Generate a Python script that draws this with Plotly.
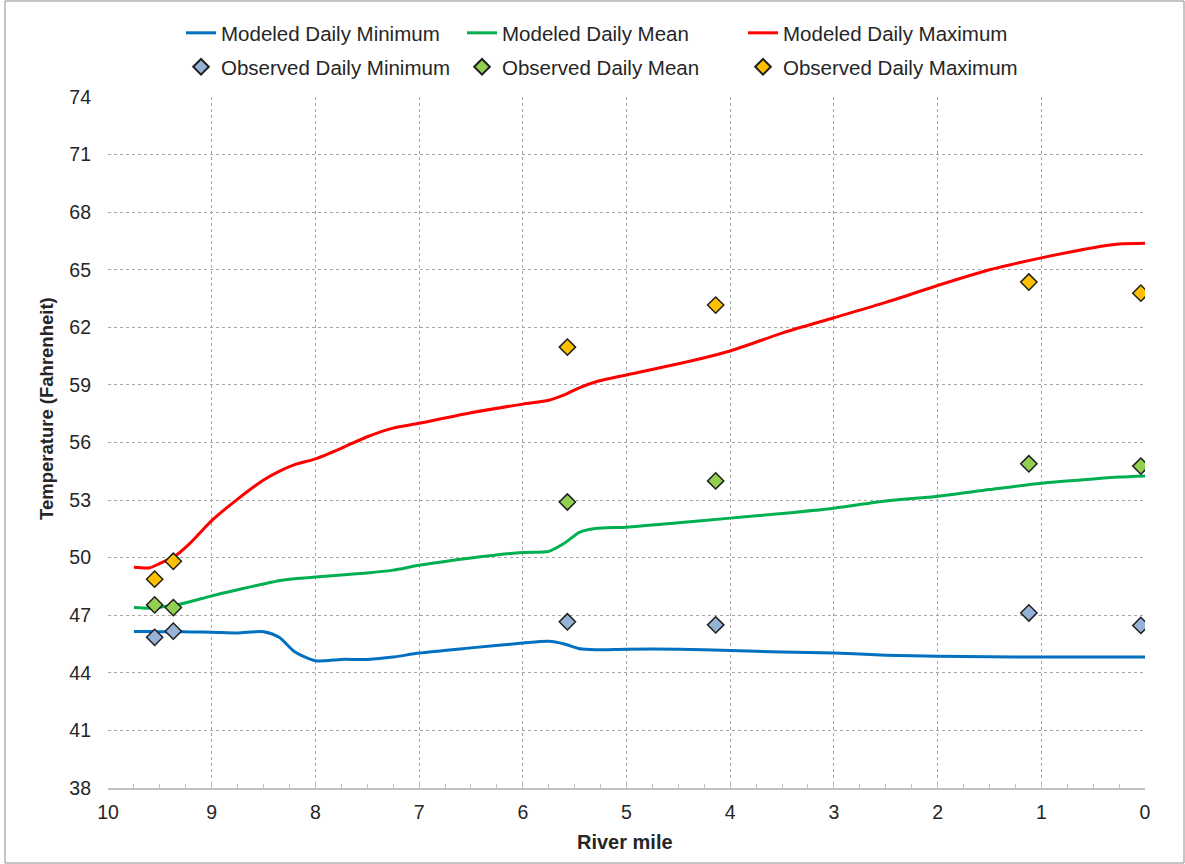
import plotly.graph_objects as go

# ---- data ----
model_mile = [9.75, 9.6, 9.5, 9.35, 9.2, 9.0, 8.75, 8.5, 8.35, 8.2, 8.0, 7.75, 7.5, 7.25,
              7.0, 6.5, 6.0, 5.75, 5.6, 5.45, 5.3, 5.0, 4.5, 4.0, 3.5, 3.0, 2.5, 2.0,
              1.5, 1.0, 0.5, 0.25, 0.0]
model_min = [46.15, 46.15, 46.14, 46.14, 46.13, 46.12, 46.08, 46.14, 45.85, 45.1, 44.63, 44.7,
             44.7, 44.82, 45.03, 45.3, 45.55, 45.64, 45.5, 45.25, 45.2, 45.23, 45.23, 45.16,
             45.08, 45.03, 44.92, 44.87, 44.84, 44.82, 44.82, 44.82, 44.82]
model_mean = [47.40, 47.37, 47.42, 47.53, 47.72, 48.01, 48.33, 48.63, 48.8, 48.9, 48.99, 49.1,
              49.2, 49.35, 49.6, 49.98, 50.27, 50.33, 50.75, 51.33, 51.52, 51.59, 51.82, 52.06,
              52.3, 52.58, 52.95, 53.2, 53.55, 53.88, 54.1, 54.2, 54.26]
model_max = [49.50, 49.47, 49.7, 50.1, 50.8, 51.93, 53.05, 54.05, 54.5, 54.85, 55.15, 55.7,
             56.3, 56.75, 57.0, 57.55, 58.0, 58.2, 58.48, 58.86, 59.15, 59.52, 60.1, 60.77,
             61.7, 62.5, 63.3, 64.18, 65.0, 65.62, 66.15, 66.34, 66.38]

obs_mile = [9.55, 9.37, 5.57, 4.14, 1.12, 0.04]
obs_min = [45.85, 46.17, 46.66, 46.5, 47.12, 46.47]
obs_mean = [47.54, 47.4, 52.9, 54.0, 54.89, 54.77]
obs_max = [48.88, 49.81, 60.97, 63.16, 64.36, 63.78]

x_ticks = list(range(0, 11))
y_ticks = list(range(38, 75, 3))

FONT = "Liberation Sans, Arial, sans-serif"
TXT = "#262626"
GRID = "#A6A6A6"
AXL = "#BFBFBF"

fig = go.Figure()

line_specs = [
    ("Modeled Daily Minimum", model_min, "#0070C0"),
    ("Modeled Daily Mean", model_mean, "#00B050"),
    ("Modeled Daily Maximum", model_max, "#FF0000"),
]
for name, vals, col in line_specs:
    fig.add_trace(go.Scatter(
        x=model_mile, y=vals, name=name, mode="lines",
        line=dict(color=col, width=3, shape="spline", smoothing=0.7),
        legend="legend",
    ))

marker_specs = [
    ("Observed Daily Minimum", obs_min, "#95B3D7"),
    ("Observed Daily Mean", obs_mean, "#92D050"),
    ("Observed Daily Maximum", obs_max, "#FFC000"),
]
for name, vals, col in marker_specs:
    fig.add_trace(go.Scatter(
        x=obs_mile, y=vals, name=name, mode="markers",
        marker=dict(symbol="diamond", size=12.5, color=col,
                    line=dict(color="#1F1F1F", width=1.5)),
        legend="legend2",
    ))

legend_common = dict(
    orientation="h", xref="container", yref="container",
    xanchor="left", yanchor="middle",
    font=dict(family=FONT, size=20.5, color=TXT),
    entrywidth=236, entrywidthmode="pixels",
    bgcolor="rgba(0,0,0,0)", borderwidth=0, traceorder="normal",
)

fig.update_layout(
    width=1185, height=864,
    margin=dict(l=108, r=40, t=97, b=76, autoexpand=False),
    paper_bgcolor="white", plot_bgcolor="white",
    showlegend=True,
    legend=dict(legend_common, x=181 / 1185, y=1 - 33 / 864),
    legend2=dict(legend_common, x=181 / 1185, y=1 - 67 / 864, itemsizing="constant"),
    xaxis=dict(
        range=[10, 0], tickvals=x_ticks, ticktext=[str(v) for v in x_ticks],
        showgrid=True, gridcolor=GRID, griddash="3px,3px", gridwidth=1,
        showline=True, linecolor=AXL, linewidth=2,
        ticks="inside", ticklen=7, tickcolor=AXL, tickwidth=1,
        minor=dict(dtick=0.25, ticks="inside", ticklen=4, tickcolor=AXL, showgrid=False),
        tickfont=dict(family=FONT, size=19.5, color=TXT),
        ticklabelstandoff=6, zeroline=False,
    ),
    yaxis=dict(
        range=[38, 74], tickvals=y_ticks,
        showgrid=True, gridcolor=GRID, griddash="3px,3px", gridwidth=1,
        showline=False, ticks="", zeroline=False,
        tickfont=dict(family=FONT, size=19.5, color=TXT),
        ticklabelstandoff=16,
    ),
    yaxis2=dict(
        range=[38, 74], tickvals=y_ticks, overlaying="y", side="right",
        showgrid=False, showticklabels=False, zeroline=False,
        showline=True, linecolor=AXL, linewidth=2,
        ticks="inside", ticklen=7, tickcolor=AXL,
    ),
    annotations=[
        dict(text="<b>Temperature (Fahrenheit)</b>", xref="paper", yref="paper",
             x=(47 - 108) / 1037, y=(788 - 409) / 691, textangle=-90,
             showarrow=False, xanchor="center", yanchor="middle",
             font=dict(family=FONT, size=18.5, color=TXT)),
        dict(text="<b>River mile</b>", xref="paper", yref="paper",
             x=(625 - 108) / 1037, y=(788 - 842) / 691,
             showarrow=False, xanchor="center", yanchor="middle",
             font=dict(family=FONT, size=20, color=TXT)),
    ],
    shapes=[
        dict(type="rect", xref="paper", yref="paper",
             x0=(5 - 108) / 1037, x1=(1184 - 108) / 1037,
             y0=(788 - 863) / 691, y1=(788 - 1) / 691,
             line=dict(color="#8C8C8C", width=1), fillcolor="rgba(0,0,0,0)", layer="below"),
    ],
)

fig.write_html("out.html")
